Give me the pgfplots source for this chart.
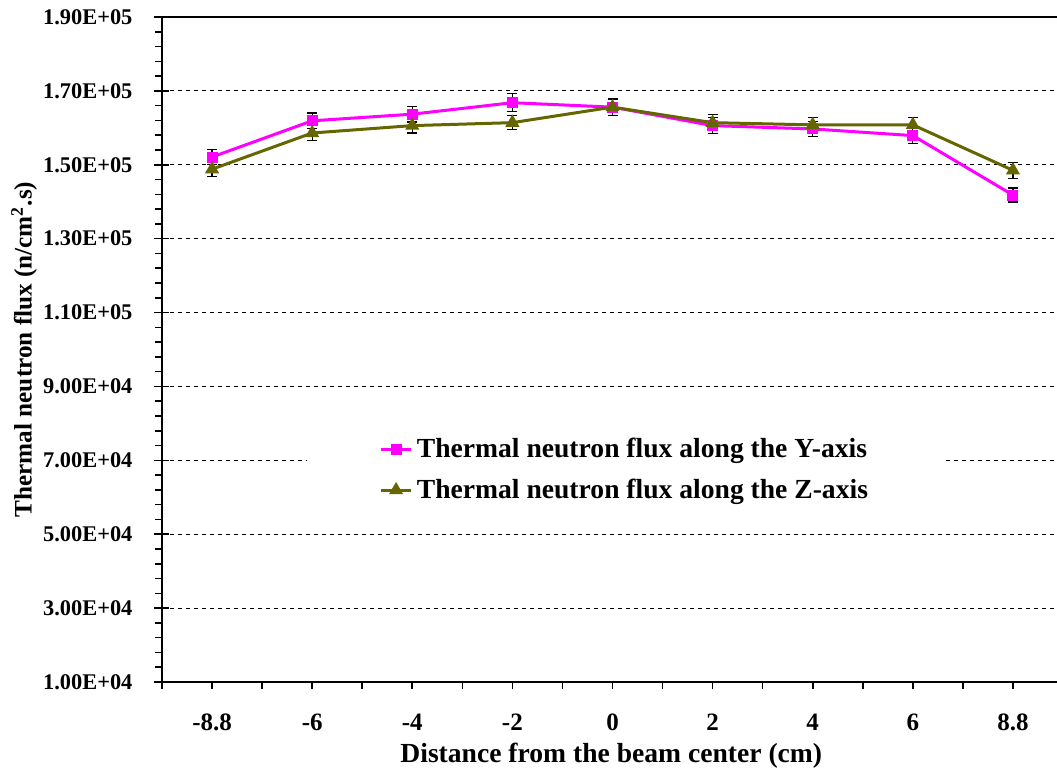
\documentclass[border=0pt]{standalone}
\usepackage{fontspec}
\setmainfont{Liberation Serif}
\usepackage{pgfplots}
\pgfplotsset{compat=1.18}
\definecolor{mag}{RGB}{255,0,255}
\definecolor{oli}{RGB}{102,102,0}
\pgfplotstableread{
x y e
0 152100 2000
1 161900 2100
2 163700 2100
3 166800 2400
4 165600 2200
5 160600 2100
6 159700 2100
7 157900 2200
8 141800 1900
}\seriesY
\pgfplotstableread{
x y e
0 148800 1900
1 158600 2000
2 160600 2000
3 161400 1900
4 165600 2200
5 161400 2100
6 160800 2100
7 160800 2000
8 148500 2200
}\seriesZ
\begin{document}
\begin{tikzpicture}
\begin{axis}[
  scale only axis,
  width=447.5pt, height=332.5pt,
  xmin=-0.5, xmax=8.44,
  ymin=10000, ymax=190000,
  axis y line*=left, axis x line*=box,
  axis line style={black, line width=1pt},
  xtick pos=left,
  xticklabel pos=left,
  xtick={0,...,8},
  xticklabels={-8.8,-6,-4,-2,0,2,4,6,8.8},
  minor xtick={-0.5,0,...,8},
  major x tick style={draw=none},
  ytick={10000,30000,...,190000},
  yticklabels={1.00E+04,3.00E+04,5.00E+04,7.00E+04,9.00E+04,1.10E+05,1.30E+05,1.50E+05,1.70E+05,1.90E+05},
  minor y tick num=4,
  major tick length=7.5pt,
  minor tick length=3.3pt,
  xtick align=outside,
  ytick align=center,
  minor y tick style={xshift=-1.65pt},
  tick style={black, line width=0.8pt},
  ymajorgrids,
  major y grid style={black, line width=0.5pt, dash pattern=on 2pt off 2pt},
  xticklabel style={font=\fontsize{12.5}{14}\selectfont\bfseries, yshift=-5pt},
  yticklabel style={font=\fontsize{11.2}{13}\selectfont\bfseries, xshift=-7.5pt},
  xlabel={Distance from the beam center (cm)},
  xlabel style={at={(axis description cs:0.502,-0.111)}, anchor=center, font=\fontsize{13.8}{16}\selectfont\bfseries},
  ylabel={Thermal neutron flux (n/cm\textsuperscript{2}.s)},
  ylabel style={at={(axis description cs:-0.154,0.5)}, anchor=center, font=\fontsize{12.6}{14}\selectfont\bfseries},
  legend style={at={(axis description cs:0.518,0.319)}, anchor=center, draw=none, fill=white,
    inner xsep=36pt, inner ysep=5pt, font=\fontsize{13.8}{16}\selectfont\bfseries, row sep=5pt},
  legend cell align=left,
  legend image code/.code={\draw[mark repeat=2,mark phase=2] plot coordinates {(0cm,0cm) (0.27cm,0cm) (0.54cm,0cm)};},
]
\addplot[mag, line width=1.5pt, mark=square*, mark size=2pt, mark options={solid, fill=mag, draw=mag},
  error bars/.cd, y dir=both, y explicit,
  error bar style={black, line width=0.6pt, solid},
  error mark options={rotate=90, black, mark size=2.5pt, line width=0.6pt}]
  table[x=x, y=y, y error=e] {\seriesY};
\addlegendentry{Thermal neutron flux along the Y-axis}
\addplot[oli, line width=1.5pt, mark=triangle*, mark size=2.6pt, mark options={solid, fill=oli, draw=oli},
  error bars/.cd, y dir=both, y explicit,
  error bar style={black, line width=0.6pt, solid},
  error mark options={rotate=90, black, mark size=2.5pt, line width=0.6pt}]
  table[x=x, y=y, y error=e] {\seriesZ};
\addlegendentry{Thermal neutron flux along the Z-axis}
\end{axis}
\pgfresetboundingbox
\path[use as bounding box] (-81pt,-44pt) rectangle (447.5pt,341pt);
\end{tikzpicture}
\end{document}
